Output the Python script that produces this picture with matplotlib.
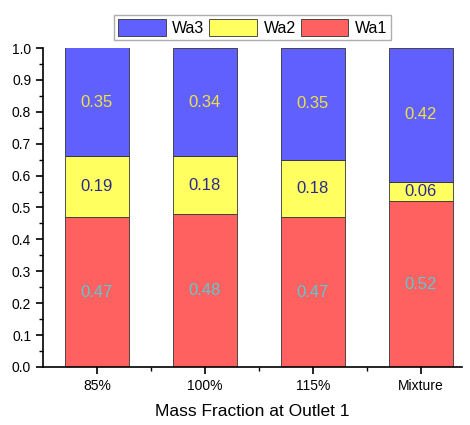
import numpy as np
import matplotlib.pyplot as plt
from matplotlib.ticker import MultipleLocator, FixedLocator

plt.rcParams['font.family'] = ['Liberation Sans', 'DejaVu Sans']

cats = ['85%', '100%', '115%', 'Mixture']
wa1 = [0.47, 0.48, 0.47, 0.52]
wa2 = [0.19, 0.18, 0.18, 0.06]
wa3 = [0.35, 0.34, 0.35, 0.42]

c_wa1 = '#ff6060'
c_wa2 = '#ffff60'
c_wa3 = '#6060ff'

fig = plt.figure(figsize=(4.7, 4.25), dpi=100)
ax = fig.add_axes([43/470, 58/425, 419/470, 319/425])

x = np.arange(len(cats))
w = 0.6
b1 = ax.bar(x, wa1, w, color=c_wa1, edgecolor='#333333', linewidth=0.6, label='Wa1')
b2 = ax.bar(x, wa2, w, bottom=wa1, color=c_wa2, edgecolor='#333333', linewidth=0.6, label='Wa2')
bot3 = np.array(wa1) + np.array(wa2)
b3 = ax.bar(x, wa3, w, bottom=bot3, color=c_wa3, edgecolor='#333333', linewidth=0.6, label='Wa3')

for i in range(len(cats)):
    ax.text(x[i], wa1[i] / 2, f'{wa1[i]:.2f}', ha='center', va='center',
            color='#5cc8d0', fontsize=12)
    ax.text(x[i], wa1[i] + wa2[i] / 2, f'{wa2[i]:.2f}', ha='center', va='center',
            color='#2a2a90', fontsize=12)
    top = min(bot3[i] + wa3[i], 1.0)
    ax.text(x[i], (bot3[i] + top) / 2, f'{wa3[i]:.2f}', ha='center', va='center',
            color='#f0e040', fontsize=12)

ax.set_xlim(-0.5, 3.38)
ax.set_ylim(0, 1.0)
ax.set_xticks(x)
ax.set_xticklabels(cats, fontsize=10)
ax.xaxis.set_minor_locator(FixedLocator([0.5, 1.5, 2.5]))
ax.yaxis.set_major_locator(MultipleLocator(0.1))
ax.yaxis.set_minor_locator(MultipleLocator(0.05))
ax.set_yticklabels([f'{v:.1f}' for v in ax.get_yticks()], fontsize=10)
ax.tick_params(axis='both', which='major', direction='out', length=5, width=1.2)
ax.tick_params(axis='both', which='minor', direction='out', length=3, width=1.0)
ax.spines['top'].set_visible(False)
ax.spines['right'].set_visible(False)
ax.spines['left'].set_linewidth(1.2)
ax.spines['bottom'].set_linewidth(1.2)
ax.set_xlabel('Mass Fraction at Outlet 1', fontsize=12.5, labelpad=8)

leg = ax.legend(handles=[b3, b2, b1], labels=['Wa3', 'Wa2', 'Wa1'], ncol=3,
                loc='lower center', bbox_to_anchor=(0.5, 1.0), fontsize=11.5,
                frameon=True, fancybox=False, edgecolor='#999999',
                handlelength=3.0, handleheight=1.3, handletextpad=0.4,
                columnspacing=0.3, borderpad=0.25, borderaxespad=0.5)
leg.get_frame().set_linewidth(1.0)

fig.savefig('out.png', dpi=100)
